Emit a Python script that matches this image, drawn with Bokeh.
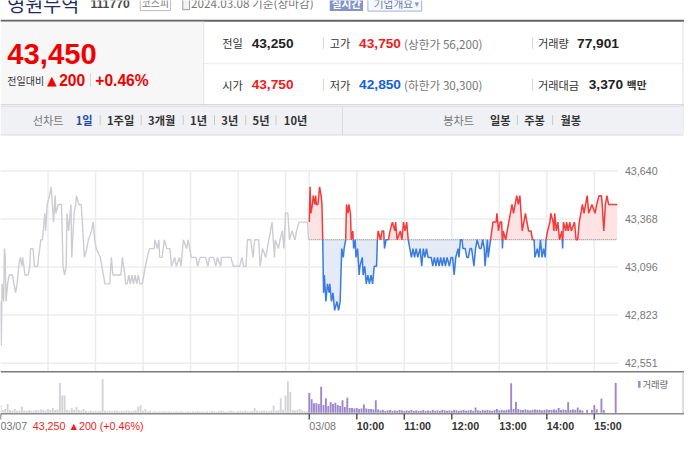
from bokeh.plotting import figure
from bokeh.models import Range1d
from bokeh.core.properties import value
from bokeh.embed import file_html
from bokeh.resources import INLINE

# ------------------------------------------------------------------ data
stock_name = "영원무역"
stock_code = "111770"
market = "코스피"
date_text = "2024.03.08 기준(장마감)"
current_price = 43450
change = 200
change_pct = "+0.46%"
prev_close = 43250
open_price = 43750
high_price = 43750
low_price = 42850
upper_limit = 56200
lower_limit = 30300
volume_total = 77901
value_total = "3,370"

price_ticks = [42551, 42823, 43096, 43368, 43640]
day_labels = ["03/07", "03/08"]
hour_labels = ["10:00", "11:00", "12:00", "13:00", "14:00", "15:00"]
hour_offsets = [60, 120, 180, 240, 300, 360]      # minutes after 09:00
session_minutes = 390

# 03/07 intraday (minutes after 09:00, price)
day1_min = [0, 1, 2, 4, 5, 6, 7, 9, 11, 15, 17, 19, 21, 23, 25, 27, 28, 31, 35, 37,
            38, 41, 43, 47, 48, 51, 53, 56, 57, 59, 62, 64, 67, 69, 70, 73, 77, 79, 81, 83,
            84, 86, 89, 90, 93, 95, 96, 99, 102, 106, 109, 111, 115, 117, 119, 121, 126, 130, 132, 138,
            140, 142, 148, 152, 154, 157, 158, 160, 162, 164, 166, 168, 170, 172, 174, 176, 179, 183, 188, 194,
            195, 198, 200, 201, 204, 207, 210, 214, 216, 220, 222, 226, 228, 231, 235, 237, 241, 247, 249, 252,
            259, 262, 264, 269, 272, 274, 278, 279, 291, 294, 302, 305, 307, 310, 312, 316, 319, 321, 326, 328,
            331, 335, 337, 341, 343, 346, 347, 351, 353, 356, 358, 360, 363, 365, 368, 372, 374, 377, 388, 389]
day1_price = [42900, 42650, 43000, 42900, 43200, 43150, 42900, 43000, 43050, 43050, 43000, 42950, 43000, 43100, 43150, 43100, 43150, 43050, 43050, 43100,
              43200, 43200, 43100, 43100, 43150, 43250, 43250, 43400, 43300, 43450, 43500, 43550, 43350, 43500, 43400, 43450, 43450, 43100, 43050, 43100,
              43400, 43300, 43450, 43150, 43400, 43450, 43500, 43450, 43450, 43150, 43200, 43250, 43300, 43350, 43250, 43200, 43150, 43050, 43000, 43000,
              43150, 43050, 43050, 43050, 43150, 43050, 43000, 43000, 43050, 43000, 43050, 43000, 43050, 43000, 43050, 43000, 43000, 43100, 43200, 43200,
              43250, 43200, 43250, 43150, 43150, 43250, 43200, 43200, 43100, 43150, 43100, 43150, 43100, 43250, 43200, 43250, 43150, 43150, 43100, 43150,
              43150, 43100, 43150, 43150, 43100, 43150, 43100, 43150, 43150, 43100, 43100, 43150, 43100, 43100, 43250, 43250, 43150, 43250, 43250, 43100,
              43200, 43150, 43200, 43300, 43350, 43150, 43250, 43200, 43250, 43300, 43200, 43400, 43400, 43250, 43300, 43250, 43300, 43350, 43350, 43250]

# 03/08 intraday (minutes after 09:00, price)
day2_min = [0, 1, 2, 4, 5, 7, 8, 9, 11, 13, 15, 16, 17, 18, 19, 21, 23, 25, 26, 28,
            30, 32, 35, 37, 39, 41, 43, 44, 46, 47, 49, 50, 52, 53, 55, 56, 58, 59, 61, 63,
            64, 67, 68, 70, 72, 74, 76, 78, 80, 82, 85, 86, 87, 90, 92, 94, 95, 97, 100, 102,
            105, 108, 109, 111, 115, 117, 119, 121, 123, 125, 127, 129, 131, 133, 135, 137, 140, 142, 144, 146,
            148, 150, 154, 156, 158, 160, 162, 164, 166, 168, 170, 172, 174, 177, 179, 181, 183, 185, 188, 189,
            191, 193, 194, 197, 199, 201, 203, 205, 208, 210, 212, 215, 217, 219, 221, 222, 225, 226, 229, 232,
            236, 237, 239, 241, 243, 244, 245, 248, 250, 252, 254, 256, 258, 260, 262, 264, 266, 269, 271, 273,
            275, 277, 280, 282, 284, 285, 288, 290, 292, 294, 296, 298, 299, 301, 304, 305, 308, 309, 310, 312,
            314, 316, 319, 320, 321, 324, 325, 327, 329, 331, 335, 337, 339, 341, 343, 345, 347, 349, 351, 353,
            357, 361, 363, 366, 369, 370, 372, 374, 376, 378, 389]
day2_price = [43350, 43550, 43400, 43450, 43500, 43450, 43500, 43450, 43450, 43550, 43500, 43450, 43250, 42950, 43050, 42900, 43000, 42950, 43000, 42900,
              42950, 42850, 42900, 42850, 42900, 43200, 43150, 43200, 43250, 43450, 43400, 43450, 43400, 43250, 43300, 43200, 43250, 43150, 43200, 43050,
              43100, 43150, 43050, 43100, 43000, 43050, 43000, 43050, 43000, 43100, 43100, 43250, 43300, 43250, 43300, 43300, 43200, 43250, 43250, 43300,
              43350, 43300, 43350, 43250, 43300, 43250, 43350, 43300, 43350, 43250, 43200, 43150, 43200, 43150, 43200, 43150, 43200, 43100, 43200, 43150,
              43200, 43150, 43150, 43100, 43150, 43100, 43150, 43100, 43150, 43100, 43150, 43100, 43150, 43100, 43150, 43150, 43050, 43150, 43200, 43150,
              43250, 43250, 43200, 43200, 43150, 43150, 43200, 43200, 43100, 43200, 43250, 43200, 43200, 43250, 43200, 43100, 43250, 43150, 43250, 43350,
              43350, 43400, 43300, 43350, 43350, 43200, 43300, 43250, 43300, 43350, 43400, 43450, 43400, 43450, 43500, 43450, 43500, 43300, 43350, 43400,
              43350, 43300, 43300, 43250, 43250, 43150, 43200, 43150, 43250, 43150, 43200, 43150, 43250, 43300, 43350, 43400, 43350, 43300, 43400, 43300,
              43350, 43250, 43300, 43200, 43350, 43300, 43350, 43300, 43350, 43300, 43350, 43250, 43250, 43350, 43400, 43450, 43400, 43450, 43500, 43400,
              43450, 43400, 43450, 43500, 43500, 43450, 43300, 43450, 43500, 43450, 43450]

# volume, sampled every 3 minutes (shares)
vol_minutes = list(range(0, 390, 3))
day1_vol = [800, 300, 400, 900, 300, 250, 400, 200, 250, 650,
            250, 200, 300, 250, 200, 300, 250, 350, 300, 250,
            400, 300, 500, 300, 350, 3100, 1800, 1800, 300, 250,
            500, 300, 600, 300, 250, 400, 200, 150, 200, 150,
            200, 150, 200, 3500, 200, 150, 200, 150, 250, 200,
            150, 200, 150, 250, 200, 150, 200, 250, 650, 770,
            200, 400, 150, 200, 100, 150, 100, 150, 100, 150,
            100, 150, 100, 100, 150, 100, 150, 100, 100, 150,
            100, 150, 100, 200, 100, 150, 100, 150, 100, 200,
            150, 100, 150, 200, 150, 100, 150, 200, 150, 100,
            150, 200, 150, 200, 150, 150, 200, 500, 200, 150,
            200, 250, 200, 150, 250, 750, 200, 300, 1500, 300,
            1800, 3270, 2150, 300, 250, 300, 400, 250, 200, 150]
day2_vol = [2060, 1400, 1000, 1000, 900, 2700, 800, 1500, 700, 1100,
            900, 1050, 800, 700, 1300, 600, 1570, 500, 500, 450,
            500, 400, 450, 870, 450, 400, 400, 350, 1300, 350,
            250, 300, 200, 250, 300, 200, 250, 200, 300, 250,
            200, 250, 200, 300, 200, 250, 200, 200, 300, 200,
            250, 200, 300, 200, 250, 200, 300, 250, 200, 250,
            200, 300, 250, 200, 250, 300, 200, 250, 300, 200,
            550, 250, 200, 300, 250, 300, 250, 200, 300, 400,
            250, 300, 250, 300, 350, 3060, 400, 1130, 400, 300,
            300, 350, 300, 250, 300, 350, 300, 300, 250, 300,
            350, 300, 300, 350, 300, 500, 300, 350, 300, 1100,
            300, 350, 300, 550, 300, 250, 0, 300, 0, 300,
            800, 350, 0, 1470, 300, 0, 0, 0, 0, 3100]

# ------------------------------------------------------------------ layout / style
KR = "Noto Sans CJK KR"
LAT = "Liberation Sans"
RED = "#f21a1a"
BLUE = "#1162dc"
FS = 0.975
REF_W, REF_H = 700, 450
PX_PER_MIN = 316 / 390
Y_TOP, Y_BOT = 176.7, 376.0        # pixel rows of the highest / lowest price tick
VOL_BASE = 427.5
SHARES_PER_PX = 100

pk = (Y_BOT - Y_TOP) / (price_ticks[-1] - price_ticks[0])
price_lo = price_ticks[0] - (REF_H - Y_BOT) / pk
price_hi = price_ticks[-1] + Y_TOP / pk

p = figure(width=684, height=434, x_range=Range1d(0, REF_W), y_range=Range1d(REF_H, 0),
           output_backend="svg", toolbar_location=None, min_border=0,
           x_axis_location=None, y_axis_location=None)
p.outline_line_color = None
p.grid.visible = False
p.background_fill_color = "white"
p.border_fill_color = "white"
p.extra_x_ranges = {"t": Range1d(0, REF_W / PX_PER_MIN)}
p.extra_y_ranges = {"price": Range1d(price_lo, price_hi),
                    "vol": Range1d(-(REF_H - VOL_BASE) * SHARES_PER_PX, VOL_BASE * SHARES_PER_PX)}


def T(x, y, s, size, color, font=KR, bold=False, align="left", **kw):
    p.text(x=[x], y=[y], text=[s], text_font=value(font),
           text_font_size=value(f"{size * FS:.1f}px"), text_color=color,
           text_font_style="bold" if bold else "normal",
           text_align=align, text_baseline="middle", **kw)


def L(x0, y0, x1, y1, color, w=1.0, **kw):
    p.segment(x0=[x0], y0=[y0], x1=[x1], y1=[y1], line_color=color, line_width=w, **kw)


def B(l, r, t, b, fill, line=None, w=1.0):
    p.quad(left=[l], right=[r], top=[t], bottom=[b], fill_color=fill,
           line_color=line, line_width=w)


# ---------------- top strip (cut off at the top, as in the page capture)
T(7, 3, stock_name, 20, "#1f2b5c")
T(92, 3, stock_code, 12.5, "#4a4a4a", LAT, True)
B(143, 174, -6, 10.5, "white", "#bcbcbc")
T(158.5, 3, market, 10, "#777777", align="center")
B(186.5, 193.5, -4, 9.5, "#f2f2f2", "#9a9a9a")
T(195, 2.5, date_text, 12, "#777777")
B(337, 371, -6, 11, "#8494cb")
T(354, 3, "실시간", 11, "white", bold=True, align="center")
B(376, 431, -6, 11, "#f7f8fc", "#a6b1da")
T(382, 3, "기업개요", 11, "#6a78ad")
T(426, 3.5, "▾", 9, "#8a96c4", "DejaVu Sans", align="center")
L(0, 21, REF_W, 21, "#666666", 2)

# ---------------- summary header
B(0, 208, 22, 107.5, "#f7f7f7")
L(208, 22, 208, 109, "#e2e2e2")
L(698.5, 22, 698.5, 139, "#dddddd")
L(208, 65.5, 698.5, 65.5, "#ebebeb")
L(0, 108, REF_W, 108, "#d2d2d2")

T(7, 55, f"{current_price:,}", 30, "#f20000", LAT, True)
T(7, 82.5, "전일대비", 10.3, "#333333")
T(47.5, 82.5, "▲", 13, "#f20000", "DejaVu Sans")
T(60, 82.5, f"{change}", 16, "#f20000", LAT, True)
L(92, 76, 92, 89, "#cfcfcf")
T(97, 82.5, change_pct, 16, "#f20000", LAT, True)

r1, r2 = 44.3, 87.3
for yy in (r1, r2):
    L(330.5, yy - 6, 330.5, yy + 6, "#d6d6d6")
    L(544.5, yy - 6, 544.5, yy + 6, "#d6d6d6")
T(227, r1, "전일", 11.5, "#333333")
T(257, r1, f"{prev_close:,}", 14, "#222222", LAT, True)
T(337, r1, "고가", 11.5, "#333333")
T(367, r1, f"{high_price:,}", 14, RED, LAT, True)
T(413, r1, f"(상한가 {upper_limit:,})", 12, "#777777")
T(550, r1, "거래량", 11.5, "#333333")
T(590, r1, f"{volume_total:,}", 14, "#222222", LAT, True)
T(227, r2, "시가", 11.5, "#333333")
T(257, r2, f"{open_price:,}", 14, RED, LAT, True)
T(337, r2, "저가", 11.5, "#333333")
T(367, r2, f"{low_price:,}", 14, BLUE, LAT, True)
T(413, r2, f"(하한가 {lower_limit:,})", 12, "#777777")
T(550, r2, "거래대금", 11.5, "#333333")
T(602, r2, value_total, 14, "#222222", LAT, True)
T(641, r2, "백만", 11, "#333333", bold=True)

# ---------------- period toolbar
B(0, 698.5, 109.5, 139.5, "#eff1f5")
L(0, 109.5, 698.5, 109.5, "#d8dbe2")
L(0, 139.5, 698.5, 139.5, "#d8dbe2")
L(350, 109.5, 350, 139.5, "#d8dbe2")
ty = 124
T(33, ty, "선차트", 11.5, "#777777")
T(77, ty, "1일", 11.5, "#2a4ba8", bold=True)
for xx, s in [(109, "1주일"), (151, "3개월"), (194, "1년"), (226, "3년"), (258, "5년"), (290, "10년")]:
    T(xx, ty, s, 11.5, "#333333", bold=True)
for xx in (102, 144, 187, 219, 251, 282, 529, 565):
    L(xx, ty - 5, xx, ty + 5, "#c9c9c9")
T(453, ty, "봉차트", 11.5, "#777777")
for xx, s in [(501, "일봉"), (536, "주봉"), (573, "월봉")]:
    T(xx, ty, s, 11.5, "#333333", bold=True)

# ---------------- price chart
t_end = 2 * session_minutes
grid_t = hour_offsets + [session_minutes] + [session_minutes + h for h in hour_offsets]
p.segment(x0=grid_t, x1=grid_t, y0=[Y_TOP] * len(grid_t), y1=[385] * len(grid_t),
          x_range_name="t", line_color="#ececec", line_width=1.5)
p.segment(x0=[0] * len(price_ticks), x1=[t_end] * len(price_ticks),
          y0=price_ticks, y1=price_ticks, x_range_name="t", y_range_name="price",
          line_color="#ececec", line_width=1.5)
p.text(x=[639] * len(price_ticks), y=price_ticks, text=[f"{v:,}" for v in price_ticks],
       y_range_name="price", text_font=value(LAT), text_font_size=value(f"{11 * FS:.1f}px"),
       text_color="#777777", text_baseline="middle", text_align="left")

p.line(x=day1_min, y=day1_price, x_range_name="t", y_range_name="price",
       line_color="#cbcdd2", line_width=1.4)


def split_runs(ts, ps, base):
    runs = []
    xs, ys = [ts[0]], [ps[0]]
    sgn = (ps[0] > base) - (ps[0] < base)
    for i in range(1, len(ts)):
        x0, y0, x1, y1 = ts[i - 1], ps[i - 1], ts[i], ps[i]
        s1 = (y1 > base) - (y1 < base)
        if s1 == 0 or sgn == 0 or s1 == sgn:
            xs.append(x1)
            ys.append(y1)
            if sgn == 0:
                sgn = s1
        else:
            if y0 == base:
                runs.append((sgn, xs, ys))
                xs, ys = [x0, x1], [y0, y1]
            else:
                xc = x0 + (base - y0) / (y1 - y0) * (x1 - x0)
                xs.append(xc)
                ys.append(base)
                runs.append((sgn, xs, ys))
                xs, ys = [xc, x1], [base, y1]
            sgn = s1
    runs.append((sgn, xs, ys))
    return runs


day2_t = [session_minutes + m for m in day2_min]
runs = split_runs(day2_t, day2_price, prev_close)
for sgn, xs, ys in runs:
    p.varea(x=xs, y1=[prev_close] * len(xs), y2=ys, x_range_name="t", y_range_name="price",
            fill_color="#fde3e3" if sgn >= 0 else "#e4ebf7")
p.segment(x0=[session_minutes], x1=[session_minutes + day2_min[-1]],
          y0=[prev_close], y1=[prev_close], x_range_name="t", y_range_name="price",
          line_color="#777777", line_width=1, line_dash="1 1")
for sgn, xs, ys in runs:
    p.line(x=xs, y=ys, x_range_name="t", y_range_name="price",
           line_color="#f43a3a" if sgn >= 0 else "#3a7be0", line_width=1.5)

L(0, 385, REF_W, 385, "#7a7a7a", 1.5)

# ---------------- volume
p.vbar(x=vol_minutes, top=day1_vol, bottom=0, width=2.4, x_range_name="t", y_range_name="vol",
       fill_color="#d3d4d8", line_color=None)
p.vbar(x=[session_minutes + m for m in vol_minutes], top=day2_vol, bottom=0, width=2.4,
       x_range_name="t", y_range_name="vol", fill_color="#9c88cb", line_color=None)
L(698.5, 385, 698.5, 428.5, "#bdbdbd")
L(0, 428.5, REF_W, 428.5, "#8a8a8a", 1.5)
B(652.5, 655, 394.5, 401.5, "#9c88cb")
T(657, 398, "거래량", 9.5, "#666666")

tick_t = [0, session_minutes] + [session_minutes + h for h in hour_offsets]
p.segment(x0=tick_t, x1=tick_t, y0=[428.5] * len(tick_t), y1=[434.5] * len(tick_t),
          x_range_name="t", line_color="#555555", line_width=1.5)
lab_y = 441
p.text(x=[0, session_minutes], y=[lab_y, lab_y], text=day_labels, x_range_name="t",
       text_font=value(LAT), text_font_size=value(f"{11 * FS:.1f}px"), text_color="#777777",
       text_baseline="middle", text_align="left")
p.text(x=[session_minutes + h for h in hour_offsets], y=[lab_y] * len(hour_labels), text=hour_labels,
       x_range_name="t", text_font=value(LAT), text_font_size=value(f"{11 * FS:.1f}px"),
       text_color="#333333", text_font_style="bold", text_baseline="middle", text_align="left")
T(33, lab_y, f"{prev_close:,} ▲{change} ({change_pct})", 11, RED, LAT)

open("out.html", "w").write(file_html(p, INLINE))
